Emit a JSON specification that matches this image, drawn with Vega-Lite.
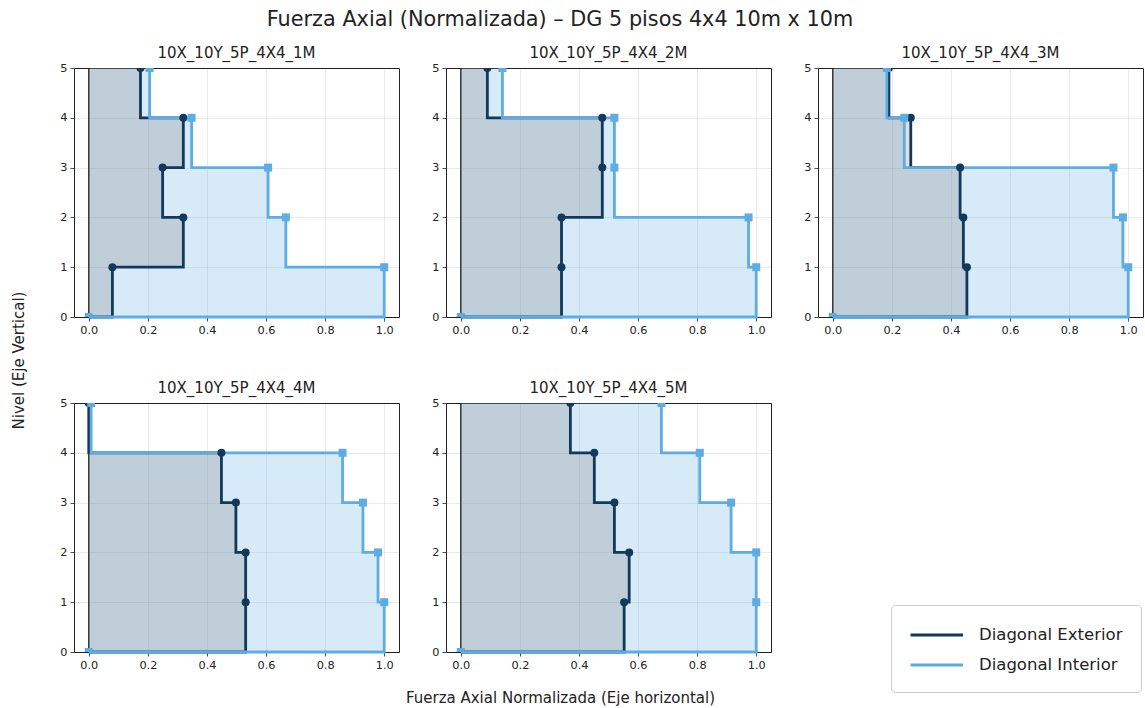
{
  "$schema": "https://vega.github.io/schema/vega-lite/v6.json",
  "background": "white",
  "padding": {"left": 10, "top": 8, "right": 0, "bottom": 0},
  "title": {
    "text": "Fuerza Axial (Normalizada) – DG 5 pisos 4x4 10m x 10m",
    "fontSize": 20.8,
    "fontWeight": "normal",
    "color": "#222",
    "anchor": "middle",
    "dx": -17,
    "offset": 15
  },
  "datasets": {
    "fa": [
      {"panel": "10X_10Y_5P_4X4_1M", "serie": "Diagonal Exterior", "nivel": 0, "fuerza": 0},
      {"panel": "10X_10Y_5P_4X4_1M", "serie": "Diagonal Exterior", "nivel": 1, "fuerza": 0.08},
      {"panel": "10X_10Y_5P_4X4_1M", "serie": "Diagonal Exterior", "nivel": 2, "fuerza": 0.32},
      {"panel": "10X_10Y_5P_4X4_1M", "serie": "Diagonal Exterior", "nivel": 3, "fuerza": 0.25},
      {"panel": "10X_10Y_5P_4X4_1M", "serie": "Diagonal Exterior", "nivel": 4, "fuerza": 0.32},
      {"panel": "10X_10Y_5P_4X4_1M", "serie": "Diagonal Exterior", "nivel": 5, "fuerza": 0.175},
      {"panel": "10X_10Y_5P_4X4_1M", "serie": "Diagonal Interior", "nivel": 0, "fuerza": 0},
      {"panel": "10X_10Y_5P_4X4_1M", "serie": "Diagonal Interior", "nivel": 1, "fuerza": 1.0},
      {"panel": "10X_10Y_5P_4X4_1M", "serie": "Diagonal Interior", "nivel": 2, "fuerza": 0.667},
      {"panel": "10X_10Y_5P_4X4_1M", "serie": "Diagonal Interior", "nivel": 3, "fuerza": 0.607},
      {"panel": "10X_10Y_5P_4X4_1M", "serie": "Diagonal Interior", "nivel": 4, "fuerza": 0.348},
      {"panel": "10X_10Y_5P_4X4_1M", "serie": "Diagonal Interior", "nivel": 5, "fuerza": 0.206},
      {"panel": "10X_10Y_5P_4X4_2M", "serie": "Diagonal Exterior", "nivel": 0, "fuerza": 0},
      {"panel": "10X_10Y_5P_4X4_2M", "serie": "Diagonal Exterior", "nivel": 1, "fuerza": 0.341},
      {"panel": "10X_10Y_5P_4X4_2M", "serie": "Diagonal Exterior", "nivel": 2, "fuerza": 0.341},
      {"panel": "10X_10Y_5P_4X4_2M", "serie": "Diagonal Exterior", "nivel": 3, "fuerza": 0.479},
      {"panel": "10X_10Y_5P_4X4_2M", "serie": "Diagonal Exterior", "nivel": 4, "fuerza": 0.479},
      {"panel": "10X_10Y_5P_4X4_2M", "serie": "Diagonal Exterior", "nivel": 5, "fuerza": 0.09},
      {"panel": "10X_10Y_5P_4X4_2M", "serie": "Diagonal Interior", "nivel": 0, "fuerza": 0},
      {"panel": "10X_10Y_5P_4X4_2M", "serie": "Diagonal Interior", "nivel": 1, "fuerza": 1.0},
      {"panel": "10X_10Y_5P_4X4_2M", "serie": "Diagonal Interior", "nivel": 2, "fuerza": 0.974},
      {"panel": "10X_10Y_5P_4X4_2M", "serie": "Diagonal Interior", "nivel": 3, "fuerza": 0.52},
      {"panel": "10X_10Y_5P_4X4_2M", "serie": "Diagonal Interior", "nivel": 4, "fuerza": 0.52},
      {"panel": "10X_10Y_5P_4X4_2M", "serie": "Diagonal Interior", "nivel": 5, "fuerza": 0.141},
      {"panel": "10X_10Y_5P_4X4_3M", "serie": "Diagonal Exterior", "nivel": 0, "fuerza": 0},
      {"panel": "10X_10Y_5P_4X4_3M", "serie": "Diagonal Exterior", "nivel": 1, "fuerza": 0.454},
      {"panel": "10X_10Y_5P_4X4_3M", "serie": "Diagonal Exterior", "nivel": 2, "fuerza": 0.442},
      {"panel": "10X_10Y_5P_4X4_3M", "serie": "Diagonal Exterior", "nivel": 3, "fuerza": 0.431},
      {"panel": "10X_10Y_5P_4X4_3M", "serie": "Diagonal Exterior", "nivel": 4, "fuerza": 0.264},
      {"panel": "10X_10Y_5P_4X4_3M", "serie": "Diagonal Exterior", "nivel": 5, "fuerza": 0.19},
      {"panel": "10X_10Y_5P_4X4_3M", "serie": "Diagonal Interior", "nivel": 0, "fuerza": 0},
      {"panel": "10X_10Y_5P_4X4_3M", "serie": "Diagonal Interior", "nivel": 1, "fuerza": 1.0},
      {"panel": "10X_10Y_5P_4X4_3M", "serie": "Diagonal Interior", "nivel": 2, "fuerza": 0.982},
      {"panel": "10X_10Y_5P_4X4_3M", "serie": "Diagonal Interior", "nivel": 3, "fuerza": 0.95},
      {"panel": "10X_10Y_5P_4X4_3M", "serie": "Diagonal Interior", "nivel": 4, "fuerza": 0.242},
      {"panel": "10X_10Y_5P_4X4_3M", "serie": "Diagonal Interior", "nivel": 5, "fuerza": 0.183},
      {"panel": "10X_10Y_5P_4X4_4M", "serie": "Diagonal Exterior", "nivel": 0, "fuerza": 0},
      {"panel": "10X_10Y_5P_4X4_4M", "serie": "Diagonal Exterior", "nivel": 1, "fuerza": 0.531},
      {"panel": "10X_10Y_5P_4X4_4M", "serie": "Diagonal Exterior", "nivel": 2, "fuerza": 0.531},
      {"panel": "10X_10Y_5P_4X4_4M", "serie": "Diagonal Exterior", "nivel": 3, "fuerza": 0.498},
      {"panel": "10X_10Y_5P_4X4_4M", "serie": "Diagonal Exterior", "nivel": 4, "fuerza": 0.449},
      {"panel": "10X_10Y_5P_4X4_4M", "serie": "Diagonal Exterior", "nivel": 5, "fuerza": 0},
      {"panel": "10X_10Y_5P_4X4_4M", "serie": "Diagonal Interior", "nivel": 0, "fuerza": 0},
      {"panel": "10X_10Y_5P_4X4_4M", "serie": "Diagonal Interior", "nivel": 1, "fuerza": 1.0},
      {"panel": "10X_10Y_5P_4X4_4M", "serie": "Diagonal Interior", "nivel": 2, "fuerza": 0.979},
      {"panel": "10X_10Y_5P_4X4_4M", "serie": "Diagonal Interior", "nivel": 3, "fuerza": 0.928},
      {"panel": "10X_10Y_5P_4X4_4M", "serie": "Diagonal Interior", "nivel": 4, "fuerza": 0.859},
      {"panel": "10X_10Y_5P_4X4_4M", "serie": "Diagonal Interior", "nivel": 5, "fuerza": 0.008},
      {"panel": "10X_10Y_5P_4X4_5M", "serie": "Diagonal Exterior", "nivel": 0, "fuerza": 0},
      {"panel": "10X_10Y_5P_4X4_5M", "serie": "Diagonal Exterior", "nivel": 1, "fuerza": 0.553},
      {"panel": "10X_10Y_5P_4X4_5M", "serie": "Diagonal Exterior", "nivel": 2, "fuerza": 0.57},
      {"panel": "10X_10Y_5P_4X4_5M", "serie": "Diagonal Exterior", "nivel": 3, "fuerza": 0.52},
      {"panel": "10X_10Y_5P_4X4_5M", "serie": "Diagonal Exterior", "nivel": 4, "fuerza": 0.452},
      {"panel": "10X_10Y_5P_4X4_5M", "serie": "Diagonal Exterior", "nivel": 5, "fuerza": 0.371},
      {"panel": "10X_10Y_5P_4X4_5M", "serie": "Diagonal Interior", "nivel": 0, "fuerza": 0},
      {"panel": "10X_10Y_5P_4X4_5M", "serie": "Diagonal Interior", "nivel": 1, "fuerza": 1.0},
      {"panel": "10X_10Y_5P_4X4_5M", "serie": "Diagonal Interior", "nivel": 2, "fuerza": 1.0},
      {"panel": "10X_10Y_5P_4X4_5M", "serie": "Diagonal Interior", "nivel": 3, "fuerza": 0.915},
      {"panel": "10X_10Y_5P_4X4_5M", "serie": "Diagonal Interior", "nivel": 4, "fuerza": 0.809},
      {"panel": "10X_10Y_5P_4X4_5M", "serie": "Diagonal Interior", "nivel": 5, "fuerza": 0.679}
    ]
  },
  "columns": 3,
  "spacing": {"row": 86, "column": 47},
  "bounds": "flush",
  "concat": [
    {
      "title": "10X_10Y_5P_4X4_1M",
      "width": 325, "height": 249,
      "data": {"name": "fa"},
      "transform": [{"filter": "datum.panel === '10X_10Y_5P_4X4_1M'"}],
      "encoding": {
        "x": {"field": "fuerza", "type": "quantitative", "scale": {"domain": [-0.05, 1.05], "nice": false, "zero": false}, "axis": {"values": [0, 0.2, 0.4, 0.6, 0.8, 1], "format": ".1f", "title": null}},
        "y": {"field": "nivel", "type": "quantitative", "scale": {"domain": [0, 5], "nice": false, "zero": false}, "axis": {"values": [0, 1, 2, 3, 4, 5], "format": "d", "title": "Nivel (Eje Vertical)", "titleX": -56, "titleY": 292, "titleAlign": "center", "titleBaseline": "middle", "titleAngle": 270}}
      },
      "layer": [
        {"transform": [{"filter": "datum.serie === 'Diagonal Interior'"}], "mark": {"type": "area", "orient": "horizontal", "interpolate": "step-before", "color": "#5dade2", "opacity": 0.25}, "encoding": {"x2": {"datum": 0}}},
        {"transform": [{"filter": "datum.serie === 'Diagonal Exterior'"}], "mark": {"type": "area", "orient": "horizontal", "interpolate": "step-before", "color": "#6e6e6e", "opacity": 0.22}, "encoding": {"x2": {"datum": 0}}},
        {"transform": [{"filter": "datum.nivel === 0 && datum.serie === 'Diagonal Exterior'"}], "mark": {"type": "rule", "color": "#222", "strokeWidth": 1.3}, "encoding": {"x": {"datum": 0}, "y": {"datum": 0}, "y2": {"datum": 5}}},
        {"mark": {"type": "line", "interpolate": "step-after", "strokeWidth": 2.8}, "encoding": {"order": {"field": "nivel", "type": "quantitative"}, "color": {"field": "serie", "type": "nominal", "scale": {"domain": ["Diagonal Exterior", "Diagonal Interior"], "range": ["#12395b", "#5dade2"]}, "legend": {"orient": "none", "legendX": 817, "legendY": 537}}}},
        {"transform": [{"filter": "datum.serie === 'Diagonal Exterior'"}], "mark": {"type": "point", "shape": "circle", "filled": true, "opacity": 1, "size": 64, "color": "#12395b", "clip": true}},
        {"transform": [{"filter": "datum.serie === 'Diagonal Interior'"}], "mark": {"type": "point", "shape": "square", "filled": true, "opacity": 1, "size": 64, "color": "#5dade2", "clip": true}}
      ]
    },
    {
      "title": "10X_10Y_5P_4X4_2M",
      "width": 325, "height": 249,
      "data": {"name": "fa"},
      "transform": [{"filter": "datum.panel === '10X_10Y_5P_4X4_2M'"}],
      "encoding": {
        "x": {"field": "fuerza", "type": "quantitative", "scale": {"domain": [-0.05, 1.05], "nice": false, "zero": false}, "axis": {"values": [0, 0.2, 0.4, 0.6, 0.8, 1], "format": ".1f", "title": null}},
        "y": {"field": "nivel", "type": "quantitative", "scale": {"domain": [0, 5], "nice": false, "zero": false}, "axis": {"values": [0, 1, 2, 3, 4, 5], "format": "d", "title": null}}
      },
      "layer": [
        {"transform": [{"filter": "datum.serie === 'Diagonal Interior'"}], "mark": {"type": "area", "orient": "horizontal", "interpolate": "step-before", "color": "#5dade2", "opacity": 0.25}, "encoding": {"x2": {"datum": 0}}},
        {"transform": [{"filter": "datum.serie === 'Diagonal Exterior'"}], "mark": {"type": "area", "orient": "horizontal", "interpolate": "step-before", "color": "#6e6e6e", "opacity": 0.22}, "encoding": {"x2": {"datum": 0}}},
        {"transform": [{"filter": "datum.nivel === 0 && datum.serie === 'Diagonal Exterior'"}], "mark": {"type": "rule", "color": "#222", "strokeWidth": 1.3}, "encoding": {"x": {"datum": 0}, "y": {"datum": 0}, "y2": {"datum": 5}}},
        {"mark": {"type": "line", "interpolate": "step-after", "strokeWidth": 2.8}, "encoding": {"order": {"field": "nivel", "type": "quantitative"}, "color": {"field": "serie", "type": "nominal", "scale": {"domain": ["Diagonal Exterior", "Diagonal Interior"], "range": ["#12395b", "#5dade2"]}, "legend": {"orient": "none", "legendX": 817, "legendY": 537}}}},
        {"transform": [{"filter": "datum.serie === 'Diagonal Exterior'"}], "mark": {"type": "point", "shape": "circle", "filled": true, "opacity": 1, "size": 64, "color": "#12395b", "clip": true}},
        {"transform": [{"filter": "datum.serie === 'Diagonal Interior'"}], "mark": {"type": "point", "shape": "square", "filled": true, "opacity": 1, "size": 64, "color": "#5dade2", "clip": true}}
      ]
    },
    {
      "title": "10X_10Y_5P_4X4_3M",
      "width": 325, "height": 249,
      "data": {"name": "fa"},
      "transform": [{"filter": "datum.panel === '10X_10Y_5P_4X4_3M'"}],
      "encoding": {
        "x": {"field": "fuerza", "type": "quantitative", "scale": {"domain": [-0.05, 1.05], "nice": false, "zero": false}, "axis": {"values": [0, 0.2, 0.4, 0.6, 0.8, 1], "format": ".1f", "title": null}},
        "y": {"field": "nivel", "type": "quantitative", "scale": {"domain": [0, 5], "nice": false, "zero": false}, "axis": {"values": [0, 1, 2, 3, 4, 5], "format": "d", "title": null}}
      },
      "layer": [
        {"transform": [{"filter": "datum.serie === 'Diagonal Interior'"}], "mark": {"type": "area", "orient": "horizontal", "interpolate": "step-before", "color": "#5dade2", "opacity": 0.25}, "encoding": {"x2": {"datum": 0}}},
        {"transform": [{"filter": "datum.serie === 'Diagonal Exterior'"}], "mark": {"type": "area", "orient": "horizontal", "interpolate": "step-before", "color": "#6e6e6e", "opacity": 0.22}, "encoding": {"x2": {"datum": 0}}},
        {"transform": [{"filter": "datum.nivel === 0 && datum.serie === 'Diagonal Exterior'"}], "mark": {"type": "rule", "color": "#222", "strokeWidth": 1.3}, "encoding": {"x": {"datum": 0}, "y": {"datum": 0}, "y2": {"datum": 5}}},
        {"mark": {"type": "line", "interpolate": "step-after", "strokeWidth": 2.8}, "encoding": {"order": {"field": "nivel", "type": "quantitative"}, "color": {"field": "serie", "type": "nominal", "scale": {"domain": ["Diagonal Exterior", "Diagonal Interior"], "range": ["#12395b", "#5dade2"]}, "legend": {"orient": "none", "legendX": 817, "legendY": 537}}}},
        {"transform": [{"filter": "datum.serie === 'Diagonal Exterior'"}], "mark": {"type": "point", "shape": "circle", "filled": true, "opacity": 1, "size": 64, "color": "#12395b", "clip": true}},
        {"transform": [{"filter": "datum.serie === 'Diagonal Interior'"}], "mark": {"type": "point", "shape": "square", "filled": true, "opacity": 1, "size": 64, "color": "#5dade2", "clip": true}}
      ]
    },
    {
      "title": "10X_10Y_5P_4X4_4M",
      "width": 325, "height": 249,
      "data": {"name": "fa"},
      "transform": [{"filter": "datum.panel === '10X_10Y_5P_4X4_4M'"}],
      "encoding": {
        "x": {"field": "fuerza", "type": "quantitative", "scale": {"domain": [-0.05, 1.05], "nice": false, "zero": false}, "axis": {"values": [0, 0.2, 0.4, 0.6, 0.8, 1], "format": ".1f", "title": null}},
        "y": {"field": "nivel", "type": "quantitative", "scale": {"domain": [0, 5], "nice": false, "zero": false}, "axis": {"values": [0, 1, 2, 3, 4, 5], "format": "d", "title": null}}
      },
      "layer": [
        {"transform": [{"filter": "datum.serie === 'Diagonal Interior'"}], "mark": {"type": "area", "orient": "horizontal", "interpolate": "step-before", "color": "#5dade2", "opacity": 0.25}, "encoding": {"x2": {"datum": 0}}},
        {"transform": [{"filter": "datum.serie === 'Diagonal Exterior'"}], "mark": {"type": "area", "orient": "horizontal", "interpolate": "step-before", "color": "#6e6e6e", "opacity": 0.22}, "encoding": {"x2": {"datum": 0}}},
        {"transform": [{"filter": "datum.nivel === 0 && datum.serie === 'Diagonal Exterior'"}], "mark": {"type": "rule", "color": "#222", "strokeWidth": 1.3}, "encoding": {"x": {"datum": 0}, "y": {"datum": 0}, "y2": {"datum": 5}}},
        {"mark": {"type": "line", "interpolate": "step-after", "strokeWidth": 2.8}, "encoding": {"order": {"field": "nivel", "type": "quantitative"}, "color": {"field": "serie", "type": "nominal", "scale": {"domain": ["Diagonal Exterior", "Diagonal Interior"], "range": ["#12395b", "#5dade2"]}, "legend": {"orient": "none", "legendX": 817, "legendY": 537}}}},
        {"transform": [{"filter": "datum.serie === 'Diagonal Exterior'"}], "mark": {"type": "point", "shape": "circle", "filled": true, "opacity": 1, "size": 64, "color": "#12395b", "clip": true}},
        {"transform": [{"filter": "datum.serie === 'Diagonal Interior'"}], "mark": {"type": "point", "shape": "square", "filled": true, "opacity": 1, "size": 64, "color": "#5dade2", "clip": true}}
      ]
    },
    {
      "title": "10X_10Y_5P_4X4_5M",
      "width": 325, "height": 249,
      "data": {"name": "fa"},
      "transform": [{"filter": "datum.panel === '10X_10Y_5P_4X4_5M'"}],
      "encoding": {
        "x": {"field": "fuerza", "type": "quantitative", "scale": {"domain": [-0.05, 1.05], "nice": false, "zero": false}, "axis": {"values": [0, 0.2, 0.4, 0.6, 0.8, 1], "format": ".1f", "title": "Fuerza Axial Normalizada (Eje horizontal)", "titleX": 114, "titleY": 45, "titleAlign": "center", "titleBaseline": "middle"}},
        "y": {"field": "nivel", "type": "quantitative", "scale": {"domain": [0, 5], "nice": false, "zero": false}, "axis": {"values": [0, 1, 2, 3, 4, 5], "format": "d", "title": null}}
      },
      "layer": [
        {"transform": [{"filter": "datum.serie === 'Diagonal Interior'"}], "mark": {"type": "area", "orient": "horizontal", "interpolate": "step-before", "color": "#5dade2", "opacity": 0.25}, "encoding": {"x2": {"datum": 0}}},
        {"transform": [{"filter": "datum.serie === 'Diagonal Exterior'"}], "mark": {"type": "area", "orient": "horizontal", "interpolate": "step-before", "color": "#6e6e6e", "opacity": 0.22}, "encoding": {"x2": {"datum": 0}}},
        {"transform": [{"filter": "datum.nivel === 0 && datum.serie === 'Diagonal Exterior'"}], "mark": {"type": "rule", "color": "#222", "strokeWidth": 1.3}, "encoding": {"x": {"datum": 0}, "y": {"datum": 0}, "y2": {"datum": 5}}},
        {"mark": {"type": "line", "interpolate": "step-after", "strokeWidth": 2.8}, "encoding": {"order": {"field": "nivel", "type": "quantitative"}, "color": {"field": "serie", "type": "nominal", "scale": {"domain": ["Diagonal Exterior", "Diagonal Interior"], "range": ["#12395b", "#5dade2"]}, "legend": {"orient": "none", "legendX": 817, "legendY": 537}}}},
        {"transform": [{"filter": "datum.serie === 'Diagonal Exterior'"}], "mark": {"type": "point", "shape": "circle", "filled": true, "opacity": 1, "size": 64, "color": "#12395b", "clip": true}},
        {"transform": [{"filter": "datum.serie === 'Diagonal Interior'"}], "mark": {"type": "point", "shape": "square", "filled": true, "opacity": 1, "size": 64, "color": "#5dade2", "clip": true}}
      ]
    }
  ],
  "config": {
    "font": "DejaVu Sans",
    "view": {"stroke": "#222", "strokeWidth": 1},
    "axis": {
      "domain": false,
      "grid": true,
      "gridColor": "#000",
      "gridOpacity": 0.1,
      "gridWidth": 0.8,
      "tickColor": "#222",
      "tickSize": 4,
      "tickWidth": 0.8,
      "labelFontSize": 11.3,
      "labelColor": "#222",
      "labelPadding": 3,
      "titleFontSize": 15,
      "titleFontWeight": "normal",
      "titleColor": "#222",
      "zindex": 1
    },
    "title": {"fontSize": 15, "fontWeight": "normal", "color": "#222", "offset": 1},
    "legend": {
      "title": null,
      "symbolType": "M-1,0H4",
      "symbolSize": 441,
      "symbolStrokeWidth": 2.8,
      "labelFontSize": 16.5,
      "labelColor": "#222",
      "labelOffset": 46,
      "rowPadding": 9,
      "padding": 18,
      "strokeColor": "#cccccc",
      "fillColor": "white",
      "cornerRadius": 4
    }
  }
}
